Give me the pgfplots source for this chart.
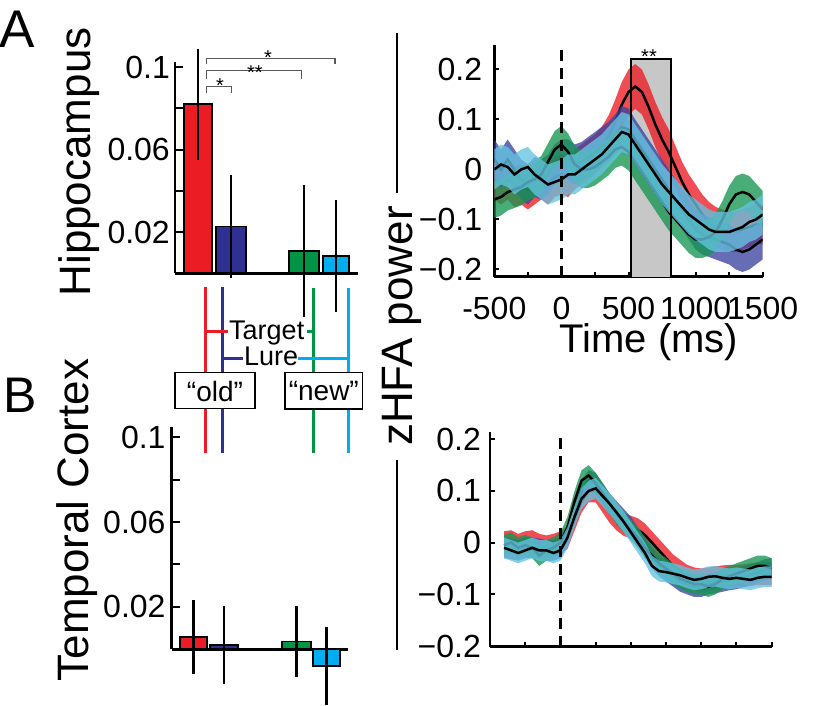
\documentclass[border=0pt]{standalone}
\usepackage{fontspec}
\setmainfont{Liberation Sans}
\usepackage{pgfplots}
\pgfplotsset{compat=1.18}
\usepackage{pgfplotstable}
\definecolor{cRed}{RGB}{236,28,36}
\definecolor{cNavy}{RGB}{46,49,146}
\definecolor{cGreen}{RGB}{0,148,68}
\definecolor{cCyan}{RGB}{0,174,239}
\definecolor{bNavy}{RGB}{60,68,160}
\definecolor{bGreen}{RGB}{20,150,80}
\definecolor{bCyan}{RGB}{100,195,225}
\newcommand{\tickfont}{\fontsize{32}{32}\selectfont}

\pgfplotstableread{
t m e
-500 -0.020 0.040
-450 -0.030 0.040
-400 -0.020 0.040
-350 -0.035 0.040
-300 -0.030 0.040
-250 -0.040 0.040
-200 -0.030 0.040
-150 -0.020 0.040
-100 -0.030 0.040
-50 -0.015 0.040
0 -0.010 0.040
50 -0.015 0.040
100 0.000 0.040
150 0.010 0.040
200 0.020 0.040
250 0.030 0.040
300 0.045 0.040
350 0.065 0.042
400 0.095 0.044
450 0.130 0.045
500 0.155 0.045
550 0.166 0.045
600 0.155 0.045
650 0.125 0.045
700 0.090 0.045
750 0.060 0.045
800 0.035 0.045
850 0.005 0.042
900 -0.025 0.040
950 -0.050 0.040
1000 -0.070 0.040
1050 -0.090 0.040
1100 -0.105 0.040
1150 -0.115 0.040
1200 -0.120 0.040
1250 -0.125 0.040
1300 -0.125 0.040
1350 -0.120 0.040
1400 -0.115 0.040
1450 -0.110 0.040
1500 -0.110 0.040
}\hipR

\pgfplotstableread{
t m e
-500 0.020 0.040
-450 0.000 0.040
-400 0.020 0.040
-350 0.000 0.040
-300 -0.020 0.040
-250 -0.030 0.040
-200 -0.015 0.040
-150 -0.020 0.040
-100 -0.010 0.040
-50 0.010 0.040
0 0.020 0.040
50 0.020 0.040
100 0.010 0.040
150 0.015 0.040
200 0.025 0.040
250 0.035 0.040
300 0.045 0.040
350 0.055 0.040
400 0.070 0.040
450 0.085 0.042
500 0.080 0.042
550 0.060 0.040
600 0.040 0.040
650 0.020 0.040
700 0.000 0.040
750 -0.020 0.040
800 -0.040 0.040
850 -0.060 0.040
900 -0.080 0.040
950 -0.100 0.040
1000 -0.120 0.040
1050 -0.130 0.040
1100 -0.135 0.040
1150 -0.140 0.040
1200 -0.145 0.040
1250 -0.150 0.040
1300 -0.160 0.040
1350 -0.165 0.040
1400 -0.160 0.040
1450 -0.150 0.040
1500 -0.140 0.040
}\hipN

\pgfplotstableread{
t m e
-500 -0.060 0.037
-450 -0.055 0.037
-400 -0.045 0.037
-350 -0.040 0.037
-300 -0.035 0.037
-250 -0.025 0.037
-200 -0.020 0.037
-150 -0.010 0.037
-100 0.015 0.037
-50 0.040 0.037
0 0.050 0.037
50 0.035 0.037
100 0.010 0.037
150 0.000 0.037
200 0.000 0.037
250 0.005 0.037
300 0.015 0.037
350 0.025 0.037
400 0.040 0.037
450 0.045 0.037
500 0.035 0.037
550 0.015 0.037
600 -0.005 0.037
650 -0.025 0.037
700 -0.045 0.037
750 -0.065 0.037
800 -0.085 0.037
850 -0.100 0.037
900 -0.115 0.037
950 -0.130 0.037
1000 -0.140 0.037
1050 -0.140 0.037
1100 -0.135 0.037
1150 -0.125 0.037
1200 -0.100 0.037
1250 -0.070 0.037
1300 -0.050 0.037
1350 -0.045 0.037
1400 -0.050 0.037
1450 -0.065 0.037
1500 -0.080 0.037
}\hipG

\pgfplotstableread{
t m e
-500 0.000 0.040
-450 0.010 0.040
-400 0.005 0.040
-350 -0.010 0.040
-300 0.000 0.040
-250 0.005 0.040
-200 -0.010 0.040
-150 -0.020 0.040
-100 -0.030 0.040
-50 -0.025 0.040
0 -0.020 0.040
50 -0.010 0.040
100 -0.010 0.040
150 0.000 0.040
200 0.010 0.040
250 0.020 0.040
300 0.030 0.040
350 0.045 0.040
400 0.060 0.040
450 0.075 0.040
500 0.070 0.040
550 0.050 0.040
600 0.030 0.040
650 0.010 0.040
700 -0.010 0.040
750 -0.030 0.040
800 -0.045 0.040
850 -0.060 0.040
900 -0.075 0.040
950 -0.090 0.040
1000 -0.100 0.040
1050 -0.110 0.040
1100 -0.120 0.040
1150 -0.125 0.040
1200 -0.125 0.040
1250 -0.125 0.040
1300 -0.120 0.040
1350 -0.115 0.040
1400 -0.105 0.040
1450 -0.100 0.040
1500 -0.090 0.040
}\hipC

\pgfplotstableread{
t m e
-400 0.000 0.022
-350 0.002 0.022
-300 -0.005 0.022
-250 0.000 0.022
-200 0.002 0.022
-150 -0.005 0.022
-100 -0.008 0.022
-50 -0.005 0.022
0 0.000 0.022
50 0.010 0.022
100 0.045 0.022
150 0.080 0.022
200 0.100 0.022
250 0.100 0.022
300 0.080 0.022
350 0.060 0.022
400 0.045 0.022
450 0.035 0.022
500 0.030 0.022
550 0.025 0.022
600 0.015 0.022
650 0.000 0.022
700 -0.015 0.022
750 -0.030 0.022
800 -0.045 0.022
850 -0.055 0.022
900 -0.065 0.022
950 -0.070 0.022
1000 -0.072 0.022
1050 -0.070 0.022
1100 -0.068 0.022
1150 -0.066 0.022
1200 -0.065 0.022
1250 -0.065 0.022
1300 -0.064 0.022
1350 -0.062 0.022
1400 -0.060 0.022
1450 -0.060 0.022
1500 -0.060 0.022
}\tcR

\pgfplotstableread{
t m e
-400 -0.010 0.020
-350 -0.012 0.020
-300 -0.015 0.020
-250 -0.010 0.020
-200 -0.010 0.020
-150 -0.012 0.020
-100 -0.015 0.020
-50 -0.015 0.020
0 -0.010 0.020
50 0.015 0.020
100 0.060 0.020
150 0.100 0.020
200 0.120 0.020
250 0.115 0.020
300 0.095 0.020
350 0.075 0.020
400 0.060 0.020
450 0.045 0.020
500 0.030 0.020
550 0.010 0.020
600 -0.010 0.020
650 -0.030 0.020
700 -0.045 0.020
750 -0.055 0.020
800 -0.065 0.020
850 -0.075 0.020
900 -0.080 0.020
950 -0.085 0.020
1000 -0.085 0.020
1050 -0.080 0.020
1100 -0.078 0.020
1150 -0.075 0.020
1200 -0.072 0.020
1250 -0.070 0.020
1300 -0.066 0.020
1350 -0.062 0.020
1400 -0.058 0.020
1450 -0.052 0.020
1500 -0.050 0.020
}\tcN

\pgfplotstableread{
t m e
-400 -0.005 0.020
-350 0.000 0.020
-300 -0.010 0.020
-250 -0.005 0.020
-200 -0.010 0.020
-150 -0.025 0.020
-100 -0.015 0.020
-50 -0.010 0.020
0 0.000 0.020
50 0.030 0.020
100 0.080 0.020
150 0.120 0.020
200 0.130 0.020
250 0.115 0.020
300 0.095 0.020
350 0.075 0.020
400 0.055 0.020
450 0.040 0.020
500 0.025 0.020
550 0.010 0.020
600 -0.010 0.020
650 -0.025 0.020
700 -0.040 0.020
750 -0.050 0.020
800 -0.060 0.020
850 -0.070 0.020
900 -0.075 0.020
950 -0.080 0.020
1000 -0.080 0.020
1050 -0.085 0.020
1100 -0.080 0.020
1150 -0.070 0.020
1200 -0.065 0.020
1250 -0.060 0.020
1300 -0.055 0.020
1350 -0.050 0.020
1400 -0.045 0.020
1450 -0.045 0.020
1500 -0.050 0.020
}\tcG

\pgfplotstableread{
t m e
-400 -0.010 0.020
-350 -0.015 0.020
-300 -0.020 0.020
-250 -0.015 0.020
-200 -0.010 0.020
-150 -0.015 0.020
-100 -0.015 0.020
-50 -0.020 0.020
0 -0.015 0.020
50 0.010 0.020
100 0.050 0.020
150 0.085 0.020
200 0.100 0.020
250 0.105 0.020
300 0.090 0.020
350 0.075 0.020
400 0.058 0.020
450 0.040 0.020
500 0.020 0.020
550 0.000 0.020
600 -0.020 0.020
650 -0.045 0.020
700 -0.055 0.020
750 -0.057 0.020
800 -0.060 0.020
850 -0.063 0.020
900 -0.068 0.020
950 -0.072 0.020
1000 -0.070 0.020
1050 -0.066 0.020
1100 -0.065 0.020
1150 -0.068 0.020
1200 -0.070 0.020
1250 -0.068 0.020
1300 -0.070 0.020
1350 -0.072 0.020
1400 -0.068 0.020
1450 -0.066 0.020
1500 -0.066 0.020
}\tcC

\pgfplotsset{
  common/.style={scale only axis, anchor=south west, enlargelimits=false,
    axis x line*=bottom, axis y line*=left,
    axis line style={line width=2.5pt, black},
    tick align=inside, tick style={line width=2pt, black},
    ticklabel style={font=\tickfont, inner sep=0pt}},
  barax/.style={common, clip=false, xtick=\empty, ymin=0,
    ytick={0.02,0.04,0.06,0.08,0.1}, yticklabels={0.02,,0.06,,0.1},
    major tick length=8pt},
  topgeo/.style={scale only axis, anchor=south west, at={(494.3pt,429.3pt)},
    width=268.4pt, height=231.7pt, xmin=-500, xmax=1500, ymin=-0.2144, ymax=0.249},
  botgeo/.style={scale only axis, anchor=south west, at={(490pt,59.3pt)},
    width=281.7pt, height=214.7pt, xmin=-500, xmax=1500, ymin=-0.2012, ymax=0.214},
  tsax/.style={common,
    xtick={-500,-250,0,250,500,750,1000,1250,1500},
    ytick={-0.2,-0.1,0,0.1,0.2}, yticklabels={−0.2,−0.1,0,0.1,0.2},
    major tick length=5pt},
  bars/.style={ybar, bar shift=0pt, draw=black, line width=1.8pt,
    error bars/y dir=both, error bars/y explicit, error bars/error mark=none,
    error bars/error bar style={line width=2.5pt, black}}
}

\newcommand{\bandaxis}[3]{%
\begin{axis}[#1, hide axis]
\addplot[draw=none, stack plots=y] table[x=t, y expr=\thisrow{m}-\thisrow{e}] {#2};
\addplot[fill=#3, fill opacity=0.78, draw=none, stack plots=y] table[x=t, y expr=2*\thisrow{e}] {#2} \closedcycle;
\addplot[black, line width=2.5pt, stack plots=false] table[x=t, y=m] {#2};
\end{axis}}

\begin{document}
\begin{tikzpicture}
\useasboundingbox (0pt,0pt) rectangle (814pt,706pt);

% ---------- A: Hippocampus bars ----------
\begin{axis}[barax, at={(175pt,432.7pt)}, width=183pt, height=211.6pt,
  xmin=175, xmax=358, ymax=0.1027, yticklabel style={xshift=-5pt}]
\addplot[bars, fill=cRed, bar width=28] coordinates {(198,0.082) +- (0,0.027)};
\addplot[bars, fill=cNavy, bar width=29.7] coordinates {(230.9,0.0227) +- (0,0.025)};
\addplot[bars, fill=cGreen, bar width=30.3] coordinates {(303.8,0.0108) +- (0,0.032)};
\addplot[bars, fill=cCyan, bar width=26.6] coordinates {(336,0.0084) +- (0,0.027)};
\end{axis}

% ---------- B: Temporal cortex bars ----------
\begin{axis}[barax, at={(171.7pt,56.7pt)}, width=176.6pt, height=222.3pt,
  xmin=171.7, xmax=348.3, ymax=0.10486, yticklabel style={xshift=-6pt}]
\addplot[bars, fill=cRed, bar width=27.3] coordinates {(193.7,0.0058) +- (0,0.0175)};
\addplot[bars, fill=cNavy, bar width=28.3] coordinates {(224.2,0.002) +- (0,0.0183)};
\addplot[bars, fill=cGreen, bar width=28.4] coordinates {(296.5,0.0037) +- (0,0.0167)};
\addplot[bars, fill=cCyan, bar width=26.7] coordinates {(326.7,-0.008) +- (0,0.0183)};
\end{axis}

% ---------- A: time series ----------
\begin{axis}[topgeo, tsax,
  xticklabels={-500,,0,,500,,1000,,1500},
  xticklabel style={yshift=-20pt}, yticklabel style={xshift=-12pt}]
\addplot[fill=black!22, draw=none] coordinates {(515,-0.2144) (815,-0.2144) (815,0.221) (515,0.221)};
\end{axis}
\bandaxis{topgeo}{\hipR}{cRed}
\bandaxis{topgeo}{\hipN}{bNavy}
\bandaxis{topgeo}{\hipG}{bGreen}
\bandaxis{topgeo}{\hipC}{bCyan}
\begin{axis}[topgeo, hide axis]
\addplot[black, line width=2pt] coordinates {(515,-0.2144) (515,0.221) (815,0.221) (815,-0.2144)};
\addplot[black, line width=2.5pt, dash pattern=on 11pt off 7pt] coordinates {(0,-0.2144) (0,0.249)};
\end{axis}

% ---------- B: time series ----------
\begin{axis}[botgeo, tsax, xticklabels={}, yticklabel style={xshift=-9pt}]
\addplot[draw=none] coordinates {(-500,0) (1500,0)};
\end{axis}
\bandaxis{botgeo}{\tcR}{cRed}
\bandaxis{botgeo}{\tcN}{bNavy}
\bandaxis{botgeo}{\tcG}{bGreen}
\bandaxis{botgeo}{\tcC}{bCyan}
\begin{axis}[botgeo, hide axis]
\addplot[black, line width=2.5pt, dash pattern=on 11pt off 7pt] coordinates {(0,-0.2012) (0,0.214)};
\end{axis}

% ---------- annotations (pixel coordinates, y downward) ----------
\begin{scope}[shift={(0pt,706pt)}, x=1pt, y=-1pt]
\node[anchor=base west, inner sep=0pt, font=\fontsize{53}{53}\selectfont] at (-1,48) {A};
\node[anchor=base west, inner sep=0pt, font=\fontsize{50}{50}\selectfont] at (3,413) {B};
\node[rotate=90, anchor=base, inner sep=0pt, font=\fontsize{44}{44}\selectfont] at (90,162) {Hippocampus};
\node[rotate=90, anchor=base, inner sep=0pt, font=\fontsize{44}{44}\selectfont] at (88,520) {Temporal Cortex};
\node[rotate=90, anchor=base, inner sep=0pt, font=\fontsize{44}{44}\selectfont] at (412,326) {zHFA power};
\draw[line width=2.5pt] (397,33) -- (397,193);
\draw[line width=2.5pt] (397,460) -- (397,650);
\node[anchor=base, inner sep=0pt, font=\fontsize{40}{40}\selectfont] at (649,353) {Time (ms)};
\node[anchor=base, inner sep=0pt, font=\fontsize{20}{20}\selectfont] at (649,64) {**};
% significance brackets
\draw[black!65, line width=1.2pt] (206.7,93.3) -- (206.7,86.7) -- (231.7,86.7) -- (231.7,93.3);
\draw[black!65, line width=1.2pt] (206.7,79.3) -- (206.7,70.7) -- (301.7,70.7) -- (301.7,79.3);
\draw[black!65, line width=1.2pt] (206.7,64.3) -- (206.7,58.3) -- (335,58.3) -- (335,64.3);
\node[anchor=base, inner sep=0pt, font=\fontsize{20}{20}\selectfont] at (220,93) {*};
\node[anchor=base, inner sep=0pt, font=\fontsize{20}{20}\selectfont] at (255,80) {**};
\node[anchor=base, inner sep=0pt, font=\fontsize{20}{20}\selectfont] at (268,65) {*};
% condition legend
\draw[cRed, line width=3pt] (205,287) -- (205,453);
\draw[cNavy, line width=3pt] (222.7,287) -- (222.7,453);
\draw[cGreen, line width=3pt] (313.3,288) -- (313.3,453);
\draw[cCyan, line width=3pt] (348.5,288) -- (348.5,453);
\draw[cRed, line width=3pt] (205,331.7) -- (228,331.7);
\draw[cGreen, line width=3pt] (307,331.7) -- (313.3,331.7);
\draw[cNavy, line width=3pt] (222.7,359) -- (243,359);
\draw[cCyan, line width=3pt] (298,359) -- (348.5,359);
\node[anchor=base west, inner sep=0pt, font=\fontsize{27}{27}\selectfont] at (229,339.5) {Target};
\node[anchor=base west, inner sep=0pt, font=\fontsize{27}{27}\selectfont] at (244,366) {Lure};
\draw[line width=1.5pt, fill=white] (175,372.7) rectangle (255,408.3);
\draw[line width=1.5pt, fill=white] (285,372.7) rectangle (362.7,409);
\node[inner sep=0pt, font=\fontsize{28}{28}\selectfont] at (215,391) {“old”};
\node[inner sep=0pt, font=\fontsize{28}{28}\selectfont] at (323.8,391.5) {“new”};
\end{scope}
\end{tikzpicture}
\end{document}
